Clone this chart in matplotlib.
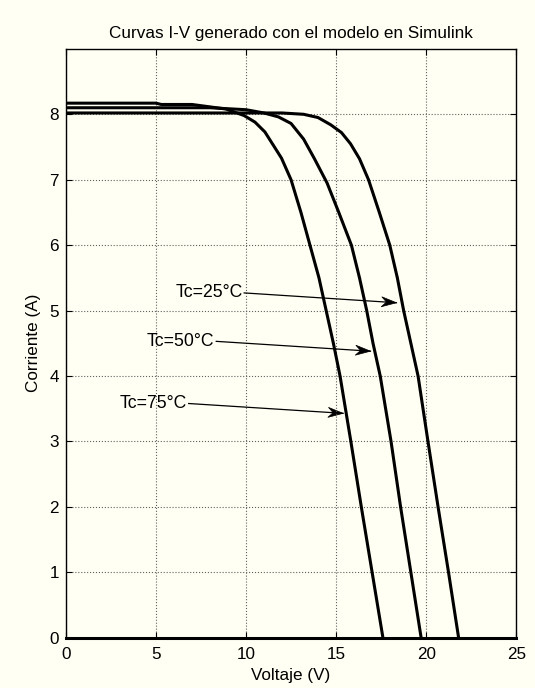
import numpy as np
import matplotlib.pyplot as plt
from matplotlib.patches import Polygon
from matplotlib.transforms import IdentityTransform

plt.rcParams['font.family'] = ['Liberation Sans', 'DejaVu Sans']

# Tc = 25 C
v25 = [0, 12.0, 13.2, 14.0, 14.7, 15.3, 15.8, 16.3, 16.8, 17.4, 17.98, 18.4,
       18.75, 19.15, 19.55, 20.1, 20.66, 21.24, 21.8]
i25 = [8.02, 8.02, 8.0, 7.95, 7.84, 7.72, 7.55, 7.32, 7.0, 6.5, 6.0, 5.5,
       5.0, 4.5, 4.0, 3.0, 2.0, 1.0, 0]

# Tc = 50 C
v50 = [0, 8.0, 10.0, 11.0, 11.8, 12.5, 13.2, 13.8, 14.5, 15.15, 15.85, 16.3,
       16.7, 17.05, 17.45, 18.05, 18.58, 19.15, 19.72]
i50 = [8.1, 8.1, 8.07, 8.02, 7.96, 7.86, 7.62, 7.32, 6.95, 6.5, 6.0, 5.5,
       5.0, 4.5, 4.0, 3.0, 2.0, 1.0, 0]

# Tc = 75 C
v75 = [0, 5.0, 5.3, 7.0, 8.9, 9.9, 10.5, 11.05, 11.97, 12.5, 13.05, 13.55,
       14.05, 14.45, 14.85, 15.22, 15.82, 16.4, 17.0, 17.6]
i75 = [8.17, 8.17, 8.15, 8.15, 8.08, 7.98, 7.88, 7.73, 7.33, 7.0, 6.5, 6.0,
       5.5, 5.0, 4.5, 4.0, 3.0, 2.0, 1.0, 0]

labels = ['Tc=25°C', 'Tc=50°C', 'Tc=75°C']
label_xy = [(9.9, 5.27), (8.35, 4.53), (6.82, 3.58)]
arrow_tip = [(18.35, 5.12), (16.91, 4.38), (15.39, 3.43)]

bg = '#fffff3'
fig = plt.figure(figsize=(5.35, 6.88), dpi=100, facecolor=bg)
ax = fig.add_axes([0.123, 0.073, 0.842, 0.856], facecolor=bg)

for v, i in [(v25, i25), (v50, i50), (v75, i75)]:
    ax.plot(v, i, color='black', lw=2.2, solid_joinstyle='round')

ax.set_xlim(0, 25)
ax.set_ylim(0, 9)

# MATLAB-like 'vback' arrows: thin shaft plus notched head
for lab, xy, tip in zip(labels, label_xy, arrow_tip):
    ax.plot([xy[0], tip[0]], [xy[1], tip[1]], color='black', lw=0.9)
    p0 = ax.transData.transform(xy)
    p1 = ax.transData.transform(tip)
    u = (p1 - p0) / np.hypot(*(p1 - p0))
    n = np.array([-u[1], u[0]])
    hl, hw, notch = 15.0, 5.0, 5.0
    pts = [p1, p1 - hl * u + hw * n, p1 - (hl - notch) * u, p1 - hl * u - hw * n]
    ax.add_patch(Polygon(pts, closed=True, transform=IdentityTransform(),
                         facecolor='black', edgecolor='black', lw=0.5))
    ax.text(xy[0] - 0.1, xy[1], lab, ha='right', va='center', fontsize=12.7)

ax.set_xticks([0, 5, 10, 15, 20, 25])
ax.set_yticks([0, 1, 2, 3, 4, 5, 6, 7, 8])
ax.grid(True, linestyle=':', color='#606060', lw=0.8)
ax.tick_params(direction='in', top=True, right=True, length=4, labelsize=12.3)
ax.tick_params(axis='x', pad=7)
ax.tick_params(axis='y', pad=5)
for s in ax.spines.values():
    s.set_linewidth(1.0)
ax.spines['bottom'].set_linewidth(2.2)

ax.set_title('Curvas I-V generado con el modelo en Simulink', fontsize=12.3, pad=8)
ax.set_xlabel('Voltaje (V)', fontsize=12.3, labelpad=4)
ax.set_ylabel('Corriente (A)', fontsize=12.3, labelpad=6)

fig.savefig('out.png', dpi=100, facecolor=bg)
